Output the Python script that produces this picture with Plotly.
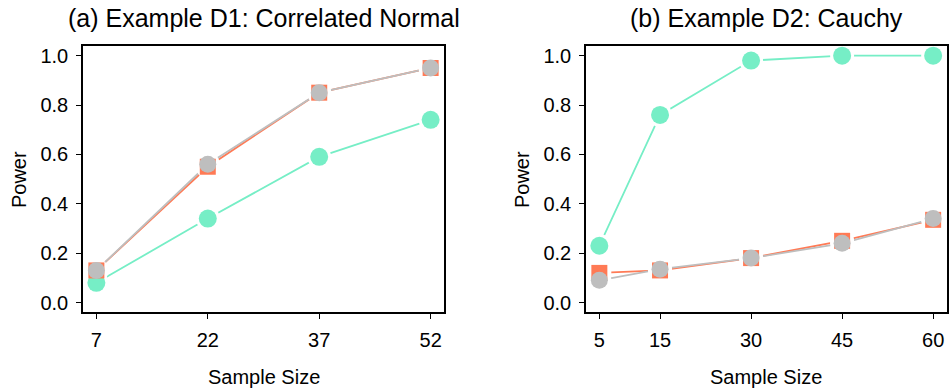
import plotly.graph_objects as go

# Panel (a): Example D1, correlated normal
n_a = [7, 22, 37, 52]
teal_a = [0.08, 0.34, 0.59, 0.74]
orange_a = [0.13, 0.55, 0.85, 0.95]
gray_a = [0.13, 0.56, 0.85, 0.95]

# Panel (b): Example D2, Cauchy
n_b = [5, 15, 30, 45, 60]
teal_b = [0.23, 0.76, 0.98, 1.00, 1.00]
orange_b = [0.12, 0.13, 0.18, 0.25, 0.335]
gray_b = [0.09, 0.135, 0.18, 0.24, 0.34]

y_ticks = [0.0, 0.2, 0.4, 0.6, 0.8, 1.0]
y_ticktext = ["0.0", "0.2", "0.4", "0.6", "0.8", "1.0"]

TEAL = "#76EEC6"
ORANGE = "#FF7A55"
GRAY = "#BEBEBE"
FONT = "Liberation Sans, Arial, sans-serif"

series_a = [(teal_a, TEAL, "circle", 18), (orange_a, ORANGE, "square", 16), (gray_a, GRAY, "circle", 17)]
series_b = [(teal_b, TEAL, "circle", 18), (orange_b, ORANGE, "square", 16), (gray_b, GRAY, "circle", 17)]

fig = go.Figure()


def add_panel(xs, series, xa, ya):
    # connecting lines
    for ys, col, sym, sz in series:
        fig.add_trace(go.Scatter(x=xs, y=ys, mode="lines", xaxis=xa, yaxis=ya,
                                 line=dict(color=col, width=1.8), hoverinfo="skip"))
    # white discs leave a small gap between the lines and the points
    for ys, col, sym, sz in series:
        fig.add_trace(go.Scatter(x=xs, y=ys, mode="markers", xaxis=xa, yaxis=ya,
                                 marker=dict(color="white", size=24, symbol="circle"),
                                 cliponaxis=True, hoverinfo="skip"))
    # the points themselves
    for ys, col, sym, sz in series:
        fig.add_trace(go.Scatter(x=xs, y=ys, mode="markers", xaxis=xa, yaxis=ya,
                                 marker=dict(color=col, size=sz, symbol=sym, line=dict(width=0)),
                                 cliponaxis=False, hoverinfo="skip"))


add_panel(n_a, series_a, "x", "y")
add_panel(n_b, series_b, "x2", "y2")

W, H = 949, 392
y_dom = [1 - 313 / H, 1 - 45 / H]

axis_common = dict(showline=True, mirror=True, linecolor="black", linewidth=1.5,
                   ticks="outside", ticklen=5, tickwidth=1.2, tickcolor="black",
                   showgrid=False, zeroline=False,
                   tickfont=dict(family=FONT, size=20, color="black"))

fig.update_layout(
    width=W, height=H, margin=dict(l=0, r=0, t=0, b=0),
    paper_bgcolor="white", plot_bgcolor="white", showlegend=False,
    xaxis=dict(domain=[83 / W, 444 / W], range=[5.2, 53.8], tickvals=n_a,
               ticklabelstandoff=4, anchor="y", **axis_common),
    yaxis=dict(domain=y_dom, range=[-0.04, 1.04], tickvals=y_ticks, ticktext=y_ticktext,
               ticklabelstandoff=4, anchor="x", **axis_common),
    xaxis2=dict(domain=[586 / W, 946.5 / W], range=[2.8, 62.2], tickvals=n_b,
                ticklabelstandoff=4, anchor="y2", **axis_common),
    yaxis2=dict(domain=y_dom, range=[-0.04, 1.04], tickvals=y_ticks, ticktext=y_ticktext,
                ticklabelstandoff=4, anchor="x2", **axis_common),
)

annots = [
    dict(text="(a) Example D1: Correlated Normal", x=(83 + 444) / 2 / W, y=1 - 17 / H, size=25),
    dict(text="(b) Example D2: Cauchy", x=(586 + 946.5) / 2 / W, y=1 - 17 / H, size=25),
    dict(text="Sample Size", x=(83 + 444) / 2 / W, y=1 - 378 / H, size=20),
    dict(text="Sample Size", x=(586 + 946.5) / 2 / W, y=1 - 378 / H, size=20),
]
for a in annots:
    fig.add_annotation(text=a["text"], x=a["x"], y=a["y"], xref="paper", yref="paper",
                       xanchor="center", yanchor="middle", showarrow=False,
                       font=dict(family=FONT, size=a["size"], color="black"))
for xp in (19, 522):
    fig.add_annotation(text="Power", x=xp / W, y=1 - 180 / H, xref="paper", yref="paper",
                       xanchor="center", yanchor="middle", showarrow=False, textangle=-90,
                       font=dict(family=FONT, size=20, color="black"))

fig.write_html("out.html")
